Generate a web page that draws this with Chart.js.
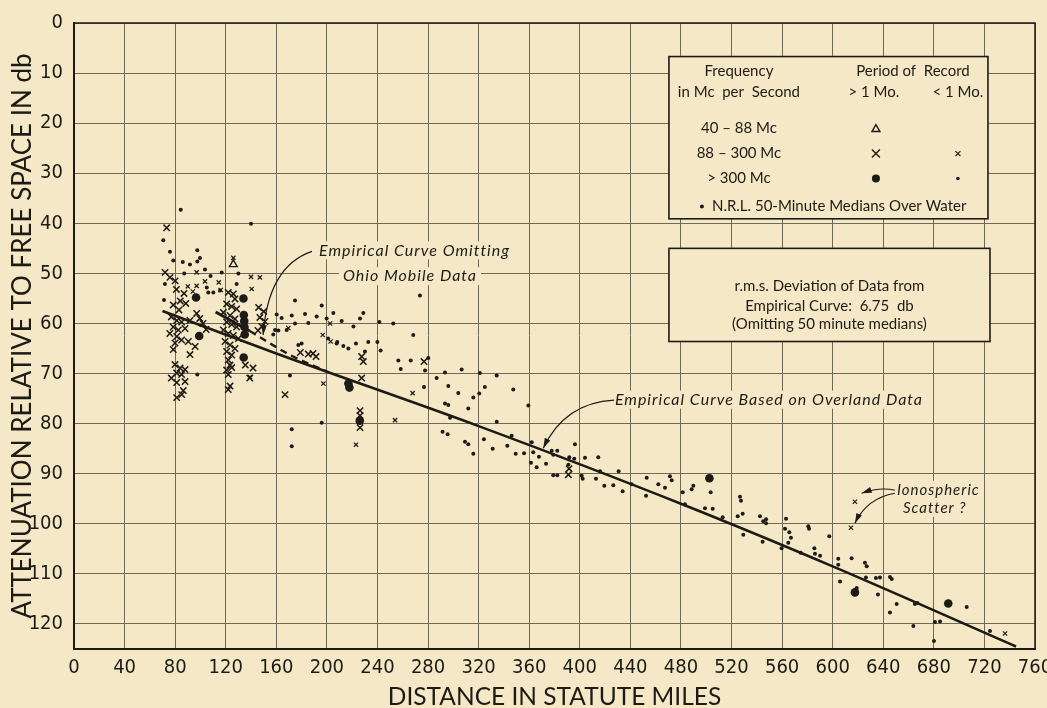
<!DOCTYPE html>
<html>
<head>
<meta charset="utf-8">
<script src="https://cdn.jsdelivr.net/npm/chart.js@4.4.1/dist/chart.umd.min.js"></script>
<style>
  html, body { margin: 0; padding: 0; background: #f5e8c6; }
  #wrap { width: 1047px; height: 708px; }
</style>
</head>
<body>
<div id="wrap"><canvas id="chart" width="1047" height="708"></canvas></div>
<script>
// axis ranges
const xMin = 0, xMax = 760, xStep = 40;
const yMin = 0, yMax = 125, yStep = 10;

// empirical curve based on overland data
const overlandCurve = [[70, 57.5], [160, 66], [320, 80.5], [480, 96], [600, 108.5], [745, 124.5]];
// empirical curve omitting Ohio mobile data (solid part, then dashed)
const omitSolid = [[112, 57.7], [139, 61.5]];
const omitDashed = [[139, 61.5], [150, 63.2], [171, 66.3], [200, 69.6]];

// 40-88 Mc, > 1 month
const triangles = [[126, 48.2]];

// 88-300 Mc, > 1 month
const bigCrosses = [
  [73.3, 40.9], [72, 49.8], [75.9, 50.8], [80, 51.5],
  [81, 53.2], [87, 54], [84, 55.5], [78.5, 56.3], [88.4, 56], [83, 57.3],
  [77, 58.7], [81.2, 59.4], [85.1, 59.7], [91.7, 59.4], [78.5, 60.7], [82.5, 61.3], [87.8, 61],
  [75.8, 62], [81.2, 62.6], [85.1, 63.3], [79.9, 63.9], [90.4, 63.6], [78.5, 65.2], [95.8, 64.6],
  [91.7, 66.2], [79.9, 68.2], [83.9, 68.9], [87.8, 69.2], [81.2, 69.9], [77, 70.9], [85.1, 70.2],
  [87.8, 71.6], [81.2, 71.8], [81.2, 74.8], [85.2, 74.2], [86.4, 73.4],
  [97, 58], [99.5, 59], [102, 60], [104.5, 61.2],
  [122, 53.8], [126, 54.1], [127.3, 55.1], [120.7, 56.1], [124.7, 56.6], [128.6, 57.1], [118.1, 57.8],
  [123.4, 58.4], [127.3, 59.1], [120.7, 59.7], [124.7, 60.2], [128.6, 60.7], [118.1, 61.3], [122, 62],
  [126, 62.4], [130, 63], [119.5, 63.6], [123.4, 64.3], [127.3, 65], [120.7, 65.6], [124.7, 66.3],
  [122, 67.3], [123.4, 68.3], [120.7, 69.3], [122, 70.2], [124.7, 68.8], [123.4, 72.5], [122, 73.2],
  [146, 56.8], [150, 57.6], [147, 58.8], [151, 59.6], [148.5, 60.6], [145.5, 61.4],
  [141.6, 68.9], [139, 70.9], [135.5, 68.3],
  [179, 65.8], [185.3, 66.1], [189, 66], [191.4, 66.6],
  [166.9, 74.2],
  [227.5, 66.6], [228.8, 67.6], [227.5, 70.9], [226.2, 77.4], [226.2, 78.4], [226.2, 80.8],
  [276.8, 67.6],
  [391.5, 89], [391, 90.2]
];

// 88-300 Mc, < 1 month
const smallCrosses = [
  [126, 46.9], [97, 49.8], [140, 50.7], [147, 50.8], [103.6, 51.6], [114.5, 51.8], [116, 53.3],
  [90, 52.6], [94, 53.6], [97, 52.5], [140.5, 53.1], [169.5, 60.9], [202.5, 60], [196.7, 62.3],
  [203, 63.6], [197.2, 72], [223, 84.2], [253.9, 79.3], [267.8, 73.9], [139.2, 70.7],
  [617.6, 95.6], [614.5, 100.8], [736.3, 121.9]
];

// > 300 Mc, > 1 month
const bigDots = [
  [96.5, 54.8], [99, 62.5], [134, 55], [134.3, 58.3], [134.6, 59.5], [134.8, 60.7], [135, 62.2],
  [134.2, 66.8], [217, 72], [217.8, 72.8], [226, 79.4], [502.5, 90.9], [617.6, 113.7], [691.4, 115.9]
];

// > 300 Mc, < 1 month, and N.R.L. 50-minute medians over water
const smallDots = [
  [84.4, 37.3], [140, 40.1], [70.6, 43.4], [75.9, 45.7], [97.5, 45.4], [78.5, 47.4], [86, 47.7],
  [91.7, 48.2], [97.5, 47.6], [99.6, 46.9], [103.6, 49.2], [116.8, 49.8], [130, 50], [87.2, 50],
  [108, 50.5], [71.9, 52.1], [128.6, 52.1], [105, 52.8], [106.2, 53.8], [110.2, 53.8], [115.5, 53.4],
  [71.2, 55.3], [97.5, 70.2], [160.3, 58.2], [164.2, 58.9], [159, 61.3], [168.2, 61.3], [157.6, 62.2],
  [174.8, 55.4], [195.9, 56.4], [273.6, 54.4], [172.2, 58.4], [182.7, 58.1], [191.9, 58.6],
  [199.8, 59], [205.1, 57.9], [211.7, 59.5], [226.2, 59], [228.8, 57.9], [241.5, 59.7], [174.8, 60],
  [185.3, 59.9], [252.5, 60], [221, 60.6], [161.6, 61.4], [208.2, 63.7], [213, 64.5], [217, 65],
  [223, 64], [232.7, 63.7], [239.9, 63.7], [242.5, 65.4], [268.3, 62.3], [177.4, 64.3], [180, 64],
  [201, 63], [207.7, 64], [230.1, 65.6], [256.5, 67.4], [266.3, 67.4], [258.4, 69.1], [280.2, 66.9],
  [277.6, 69.4], [293.4, 69.8], [306.6, 69.2], [286.8, 70.9], [296, 72.5], [303.9, 73.9],
  [315.8, 74.8], [311.8, 77], [276.8, 72.7], [293.4, 76], [296, 76.3], [297.4, 78.8], [170.8, 70.4],
  [172.2, 81.1], [172.2, 84.5], [195.9, 79.8], [291.5, 81.6], [295.5, 82.1], [309.2, 83.6],
  [311.8, 84.1],
  [321, 69.9], [334.3, 70.4], [324.9, 72.7], [320.5, 74], [347.4, 73.2], [359.3, 76.4], [334.3, 79.6],
  [346.1, 82.4], [324.2, 83.1], [315.8, 86], [331.1, 85], [342.7, 84.4], [349.3, 86], [355.9, 85.9],
  [362, 83.7], [363.2, 85.7], [367.7, 86.6], [361.4, 87.8], [365.9, 88.7], [373.3, 88], [377.8, 85.4],
  [379, 86.2], [382.2, 85.4], [396.2, 84.1], [391.7, 86.7], [395.6, 87], [391, 88.2], [379, 90.3],
  [382.2, 90.3], [401.5, 90.4], [402.3, 91], [404.1, 86.8], [414.6, 86.7], [412.8, 91], [416, 89.5],
  [419.4, 92.4], [426.5, 92.3], [430.7, 89.5], [433.9, 93.5], [441, 92.1], [452.9, 90.8],
  [452.4, 94.4], [462.1, 92.1], [467.4, 92.8], [471.3, 90.5], [472.7, 91.3], [481.4, 93.7],
  [488.5, 93.1], [489.8, 92.4], [499, 96.9], [483.2, 96.1], [503.5, 93.7], [505.1, 97], [513, 98.7],
  [526.7, 94.6], [527.5, 95.4], [524.9, 98.5], [528.8, 98], [529.3, 102.2], [542.5, 98.5],
  [545.1, 99.5], [547.3, 99.1], [547.3, 99.9], [544.6, 103.6], [559.6, 104.9], [563.1, 99],
  [562.3, 101], [565.7, 101.7], [567, 102.8], [564.9, 103.8], [580.7, 100.5], [581.3, 101],
  [574.7, 105.8], [585.5, 104.9], [586, 106], [590, 106.4], [597.3, 102.5], [615, 106.9],
  [604.4, 107], [604.4, 108.2], [605.8, 111.5], [625.5, 107.8], [626.9, 108.5], [626.3, 110.7],
  [634.2, 110.8], [637.4, 110.7], [645.3, 110.6], [646.7, 111], [619, 112.8], [635.8, 114.1],
  [645.3, 117.7], [650.6, 116], [665, 116], [667, 115.8], [663.8, 120.4], [680.1, 123.4],
  [680.9, 119.6], [684.9, 119.5], [706, 116.6], [724.4, 121.4]
];

const ink = '#1d1b16';
const paper = '#f5e8c6';
const gridColor = '#6f6a56';
const tickFont = '"Liberation Sans Narrow", "DejaVu Sans Condensed", Roboto, sans-serif';
const textFont = 'Lato, "DejaVu Sans", sans-serif';

const toPts = arr => arr.map(p => ({ x: p[0], y: p[1] }));

function drawLeader(ctx, p0, c, p1) {
    ctx.beginPath();
    ctx.moveTo(p0[0], p0[1]);
    ctx.quadraticCurveTo(c[0], c[1], p1[0], p1[1]);
    ctx.stroke();
    const ang = Math.atan2(p1[1] - c[1], p1[0] - c[0]);
    const len = 10, w = 3;
    const bx = p1[0] - len * Math.cos(ang), by = p1[1] - len * Math.sin(ang);
    ctx.beginPath();
    ctx.moveTo(p1[0], p1[1]);
    ctx.lineTo(bx + w * Math.sin(ang), by - w * Math.cos(ang));
    ctx.lineTo(bx - w * Math.sin(ang), by + w * Math.cos(ang));
    ctx.closePath();
    ctx.fill();
}

function maskedText(ctx, text, x, y, align) {
    ctx.textAlign = align || 'left';
    ctx.textBaseline = 'middle';
    const w = ctx.measureText(text).width;
    const left = align === 'center' ? x - w / 2 : x;
    ctx.fillStyle = paper;
    ctx.fillRect(left - 4, y - 9, w + 8, 18);
    ctx.fillStyle = ink;
    ctx.fillText(text, x, y);
}

function cross(ctx, x, y, r, lw) {
    ctx.lineWidth = lw;
    ctx.beginPath();
    ctx.moveTo(x - r, y - r); ctx.lineTo(x + r, y + r);
    ctx.moveTo(x + r, y - r); ctx.lineTo(x - r, y + r);
    ctx.stroke();
}

function dot(ctx, x, y, r) {
    ctx.beginPath();
    ctx.arc(x, y, r, 0, Math.PI * 2);
    ctx.fill();
}

const paperPlugin = {
    id: 'paper',
    beforeDraw(chart) {
        const ctx = chart.ctx;
        ctx.save();
        ctx.fillStyle = paper;
        ctx.fillRect(0, 0, chart.width, chart.height);
        ctx.restore();
    }
};

const notesPlugin = {
    id: 'notes',
    afterDatasetsDraw(chart) {
        const ctx = chart.ctx;
        const xs = chart.scales.x, ys = chart.scales.y;
        const P = (xv, yv) => [xs.getPixelForValue(xv), ys.getPixelForValue(yv)];
        const area = chart.chartArea;

        ctx.save();
        ctx.strokeStyle = ink;
        ctx.lineWidth = 1.5;
        ctx.strokeRect(area.left, area.top, area.right - area.left, area.bottom - area.top);

        // curve labels
        ctx.letterSpacing = '1px';
        ctx.font = 'italic 16px ' + textFont;
        let p = P(193.8, 45.4);
        maskedText(ctx, 'Empirical Curve Omitting', p[0], p[1]);
        p = P(212.7, 50.55);
        maskedText(ctx, 'Ohio Mobile Data', p[0], p[1]);
        p = P(427.8, 75.2);
        maskedText(ctx, 'Empirical Curve Based on Overland Data', p[0], p[1]);
        ctx.font = 'italic 15px ' + textFont;
        p = P(650.8, 93.2);
        maskedText(ctx, 'Ionospheric', p[0], p[1]);
        p = P(655.6, 96.8);
        maskedText(ctx, 'Scatter ?', p[0], p[1]);
        ctx.letterSpacing = '0px';

        ctx.strokeStyle = ink;
        ctx.fillStyle = ink;
        ctx.lineWidth = 1.2;
        drawLeader(ctx, P(188.2, 45.6), P(153.4, 48.6), P(149.6, 62.3));
        drawLeader(ctx, P(427.1, 75.3), P(388.3, 75.8), P(371.1, 84.9));
        drawLeader(ctx, P(649.2, 93.3), P(637.4, 92.6), P(622.9, 93.9));
        drawLeader(ctx, P(649.2, 93.9), P(626.9, 94.9), P(617.6, 99.9));

        // legend box
        const lt = P(470.5, 6.7), lb = P(722.8, 39.1);
        ctx.fillStyle = paper;
        ctx.fillRect(lt[0], lt[1], lb[0] - lt[0], lb[1] - lt[1]);
        ctx.lineWidth = 1.6;
        ctx.strokeRect(lt[0], lt[1], lb[0] - lt[0], lb[1] - lt[1]);
        const L = lt[0], T = lt[1];
        ctx.fillStyle = ink;
        ctx.textBaseline = 'middle';
        ctx.font = '15px ' + textFont;
        ctx.textAlign = 'center';
        ctx.fillText('Frequency', L + 70, T + 15);
        ctx.fillText('in Mc  per  Second', L + 70, T + 36);
        ctx.fillText('Period of  Record', L + 244, T + 15);
        ctx.fillText('> 1 Mo.', L + 205, T + 36);
        ctx.fillText('< 1 Mo.', L + 289, T + 36);
        ctx.fillText('40 – 88 Mc', L + 70, T + 72);
        ctx.fillText('88 – 300 Mc', L + 70, T + 97);
        ctx.fillText('> 300 Mc', L + 70, T + 122);
        ctx.textAlign = 'left';
        ctx.fillText('N.R.L. 50-Minute Medians Over Water', L + 43, T + 150);
        dot(ctx, L + 33, T + 150, 2);
        // legend marks
        ctx.lineWidth = 1.4;
        ctx.beginPath();
        ctx.moveTo(L + 207, T + 68); ctx.lineTo(L + 211, T + 75); ctx.lineTo(L + 203, T + 75);
        ctx.closePath(); ctx.stroke();
        cross(ctx, L + 207, T + 97, 4, 1.4);
        cross(ctx, L + 289, T + 97, 2.5, 1.2);
        dot(ctx, L + 207, T + 122, 4);
        dot(ctx, L + 289, T + 122, 1.8);

        // r.m.s. box
        const rt = P(470.5, 45.0), rb = P(724.4, 63.6);
        ctx.fillStyle = paper;
        ctx.fillRect(rt[0], rt[1], rb[0] - rt[0], rb[1] - rt[1]);
        ctx.lineWidth = 1.6;
        ctx.strokeRect(rt[0], rt[1], rb[0] - rt[0], rb[1] - rt[1]);
        ctx.fillStyle = ink;
        ctx.textAlign = 'center';
        const cx = (rt[0] + rb[0]) / 2;
        ctx.fillText('r.m.s. Deviation of Data from', cx, rt[1] + 38);
        ctx.fillText('Empirical Curve:  6.75  db', cx, rt[1] + 58);
        ctx.fillText('(Omitting 50 minute medians)', cx, rt[1] + 76);
        ctx.restore();
    }
};

new Chart(document.getElementById('chart'), {
    type: 'scatter',
    data: {
        datasets: [
            {
                label: 'Empirical Curve Based on Overland Data',
                data: toPts(overlandCurve),
                showLine: true, cubicInterpolationMode: 'monotone',
                borderColor: ink, borderWidth: 2.6, pointRadius: 0
            },
            {
                label: 'Empirical Curve Omitting Ohio Mobile Data',
                data: toPts(omitSolid),
                showLine: true, borderColor: ink, borderWidth: 3, pointRadius: 0
            },
            {
                label: 'Empirical Curve Omitting Ohio Mobile Data (cont.)',
                data: toPts(omitDashed),
                showLine: true, cubicInterpolationMode: 'monotone',
                borderColor: ink, borderWidth: 2.4, borderDash: [7, 5], pointRadius: 0
            },
            {
                label: '> 300 Mc, < 1 Mo. / N.R.L. medians',
                data: toPts(smallDots),
                pointStyle: 'circle', pointRadius: 2, backgroundColor: ink, borderWidth: 0
            },
            {
                label: '> 300 Mc, > 1 Mo.',
                data: toPts(bigDots),
                pointStyle: 'circle', pointRadius: 4.3, backgroundColor: ink, borderWidth: 0
            },
            {
                label: '88 - 300 Mc, > 1 Mo.',
                data: toPts(bigCrosses),
                pointStyle: 'crossRot', pointRadius: 4.5, borderColor: ink, borderWidth: 1.5
            },
            {
                label: '88 - 300 Mc, < 1 Mo.',
                data: toPts(smallCrosses),
                pointStyle: 'crossRot', pointRadius: 3, borderColor: ink, borderWidth: 1.2
            },
            {
                label: '40 - 88 Mc',
                data: toPts(triangles),
                pointStyle: 'triangle', pointRadius: 4.5, borderColor: ink, borderWidth: 1.4,
                backgroundColor: 'rgba(0,0,0,0)'
            }
        ]
    },
    options: {
        responsive: false,
        animation: false,
        devicePixelRatio: 1,
        layout: { padding: { top: 16, right: 12, left: 0, bottom: 0 } },
        plugins: { legend: { display: false }, tooltip: { enabled: false } },
        scales: {
            x: {
                type: 'linear', min: xMin, max: xMax,
                ticks: {
                    stepSize: xStep, color: ink, padding: 7, maxRotation: 0, autoSkip: false,
                    font: { family: tickFont, size: 20 }
                },
                grid: { color: gridColor, lineWidth: 1, drawTicks: false },
                border: { color: ink, width: 2 },
                title: {
                    display: true, text: 'DISTANCE IN STATUTE MILES', color: ink,
                    font: { family: textFont, size: 24.5, lineHeight: 1 }, padding: { top: 0, bottom: -1 }
                },
                afterFit(scale) { scale.height = 59; scale.paddingLeft = 0; scale.paddingRight = 0; }
            },
            y: {
                type: 'linear', min: yMin, max: yMax, reverse: true,
                ticks: {
                    stepSize: yStep, includeBounds: false, color: ink, padding: 11,
                    font: { family: tickFont, size: 20 }
                },
                grid: { color: gridColor, lineWidth: 1, drawTicks: false },
                border: { color: ink, width: 2 },
                title: {
                    display: true, text: 'ATTENUATION RELATIVE TO FREE SPACE IN db', color: ink,
                    font: { family: textFont, size: 26, lineHeight: 1 }, padding: { top: 10, bottom: 0 }
                },
                afterFit(scale) { scale.width = 74; }
            }
        }
    },
    plugins: [paperPlugin, notesPlugin]
});
</script>
</body>
</html>
